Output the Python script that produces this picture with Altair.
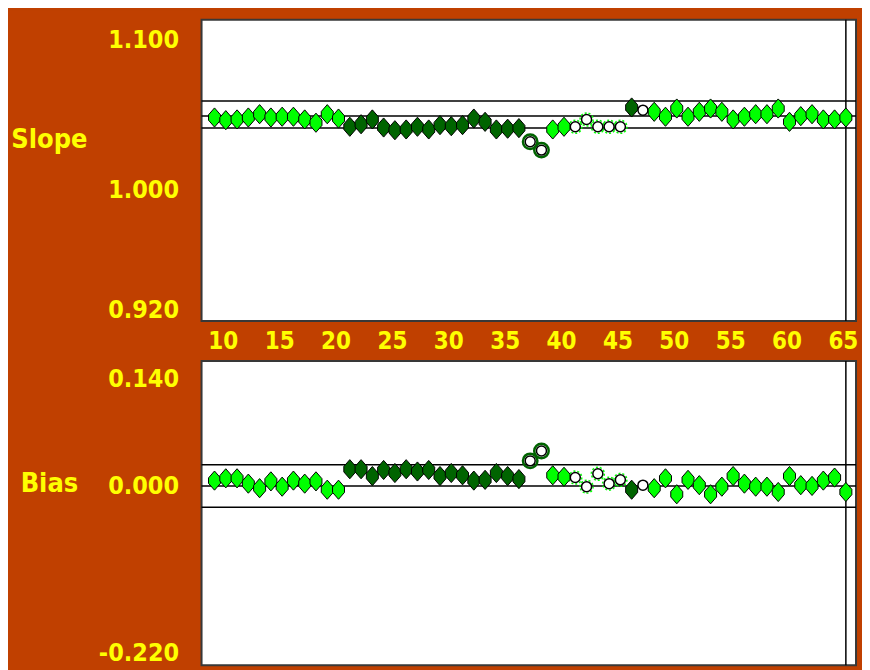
import altair as alt
import pandas as pd

# ---------------- data ----------------
x_vals = list(range(9, 66))

slope = [1.0480, 1.0462, 1.0467, 1.0480, 1.0502, 1.0480, 1.0485, 1.0485, 1.0467, 1.0445, 1.0502, 1.0473,
         1.0418, 1.0435, 1.0467, 1.0413, 1.0395, 1.0400, 1.0418, 1.0400, 1.0429, 1.0422, 1.0429, 1.0473,
         1.0451, 1.0400, 1.0405, 1.0409,
         1.0318, 1.0262,
         1.0400, 1.0418,
         1.0418, 1.0467, 1.0418, 1.0418, 1.0418,
         1.0547, 1.0529,
         1.0518, 1.0485, 1.0540, 1.0485, 1.0518, 1.0540, 1.0518, 1.0467, 1.0485, 1.0502, 1.0502, 1.0540,
         1.0451, 1.0489, 1.0502, 1.0467, 1.0467, 1.0480]

bias = [0.006, 0.009, 0.009, 0.002, -0.004, 0.005, -0.002, 0.006, 0.002, 0.005, -0.006, -0.006,
        0.021, 0.021, 0.012, 0.020, 0.016, 0.021, 0.018, 0.020, 0.012, 0.016, 0.013, 0.006,
        0.007, 0.016, 0.012, 0.008,
        0.032, 0.045,
        0.013, 0.011,
        0.010, -0.002, 0.015, 0.002, 0.007,
        -0.006, 0.000,
        -0.004, 0.009, -0.012, 0.007, 0.000, -0.012, -0.002, 0.012, 0.002, -0.002, -0.002, -0.009,
        0.012, 0.000, -0.001, 0.006, 0.010, -0.009]

# A = in control (bright), B = dark, C = open with dark ring, D = open with dashed ring, E = open
status = (["A"] * 12 + ["B"] * 16 + ["C"] * 2 + ["A"] * 2 + ["D"] * 5 + ["B"] + ["E"] + ["A"] * 18)

slope_limits = [1.059, 1.049, 1.041]
bias_limits = [0.027, -0.001, -0.029]
x_ticks = [10, 15, 20, 25, 30, 35, 40, 45, 50, 55, 60, 65]
slope_ticks = [0.92, 1.0, 1.1]
bias_ticks = [-0.22, 0.0, 0.14]
current_run = [65]

# ---------------- style ----------------
BG = "#c04000"
YEL = "#ffff00"
BRIGHT = "#00ff00"
DARK = "#006400"
FONT = "'DejaVu Sans Condensed', 'Liberation Sans Narrow', sans-serif"
DIAMOND = "M0,-1.6L1,-0.45L1,0.45L0,1.6L-1,0.45L-1,-0.45Z"
W = 656

df = pd.DataFrame({"x": x_vals, "slope": slope, "bias": bias, "status": status})

LABEL_EXPR = "datum.value < 0 ? '-' + format(-datum.value, '.3f') : format(datum.value, '.3f')"


def panel(field, domain, ticks, limits, title, title_y, height, show_x, anchor_y):
    yaxis = alt.Axis(values=ticks, labelExpr=LABEL_EXPR, labelColor=YEL, labelFont=FONT,
                     labelFontSize=25, labelFontWeight="bold", labelPadding=23,
                     ticks=False, domain=False, grid=False,
                     title=title, titleAngle=0, titleX=-153, titleY=title_y,
                     titleAlign="center", titleBaseline="middle", titleColor=YEL,
                     titleFont=FONT, titleFontSize=27, titleFontWeight="bold")
    if show_x:
        xaxis = alt.Axis(values=x_ticks, format="d", labelColor=YEL, labelFont=FONT,
                         labelFontSize=24, labelFontWeight="bold", labelPadding=9,
                         labelOffset=-3, labelFlush=False, ticks=False, domain=False,
                         grid=False, title=None)
    else:
        xaxis = None
    xenc = alt.X("x:Q", scale=alt.Scale(domain=[7.85, 65.9], nice=False, zero=False), axis=xaxis)
    yenc = alt.Y(f"{field}:Q", scale=alt.Scale(domain=domain, nice=False, zero=False), axis=yaxis)

    lim = alt.Chart(pd.DataFrame({field: limits})).mark_rule(
        color="black", strokeWidth=1.5).encode(y=yenc)
    vline = alt.Chart(pd.DataFrame({"x": current_run})).mark_rule(
        color="black", strokeWidth=1.5).encode(x=xenc)

    base = alt.Chart(df)
    ring_dark = base.transform_filter(alt.datum.status == "C").mark_point(
        shape="circle", filled=False, stroke=DARK, strokeWidth=2.5, size=210, opacity=1
    ).encode(x=xenc, y=yenc)
    ring_green = base.transform_filter(alt.datum.status == "D").mark_point(
        shape="circle", filled=False, stroke=BRIGHT, strokeWidth=1.5, strokeDash=[2, 2],
        size=170, opacity=1
    ).encode(x=xenc, y=yenc)
    hollow = base.transform_filter("indexof(['C','D','E'], datum.status) >= 0").mark_point(
        shape="circle", filled=True, fill="white", stroke="black", strokeWidth=1.5,
        size=100, opacity=1
    ).encode(x=xenc, y=yenc)
    dia = base.transform_filter("indexof(['A','B'], datum.status) >= 0").mark_point(
        shape=DIAMOND, filled=True, stroke="black", strokeWidth=1, size=144, opacity=1
    ).encode(x=xenc, y=yenc,
             fill=alt.Fill("status:N", scale=alt.Scale(domain=["A", "B"], range=[BRIGHT, DARK]),
                           legend=None))

    anchor = alt.Chart(pd.DataFrame({"a": [0]})).mark_rule(color=BG, strokeWidth=1).encode(
        x=alt.value(-192.5), x2=alt.value(660.5), y=alt.value(anchor_y))

    return alt.layer(anchor, lim, vline, ring_dark, ring_green, hollow, dia).properties(
        width=W, height=height)


top = panel("slope", [0.912, 1.1133], slope_ticks, slope_limits, "Slope", 120, 302, True, -9.5)
bottom = panel("bias", [-0.2372, 0.1636], bias_ticks, bias_limits, "Bias", 123, 305, False, 312)

chart = alt.vconcat(top, bottom, spacing=40, bounds="flush").properties(
    padding=0, background=BG
).configure_view(stroke="#383838", strokeWidth=2, fill="white")

chart.save("out.html", embed_options={"renderer": "svg", "actions": False})
